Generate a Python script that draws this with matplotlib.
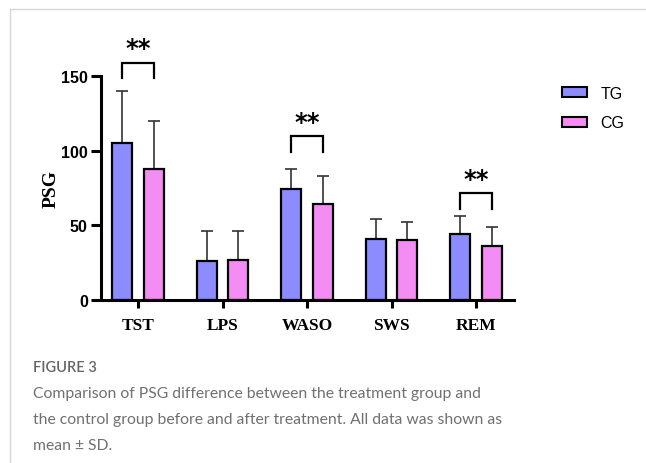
import matplotlib
matplotlib.use("Agg")
import matplotlib.pyplot as plt
from matplotlib.lines import Line2D
import numpy as np

# PSG measures (mean and SD) for the two groups
categories = ["TST", "LPS", "WASO", "SWS", "REM"]
tg_mean = [105, 26, 74, 41, 44]
tg_sd = [35, 20, 14, 13, 12]
cg_mean = [88, 27, 64, 40, 36]
cg_sd = [32, 19, 19, 12, 13]
groups = ["TG", "CG"]
yticks = [0, 50, 100, 150]

# significance brackets: (category index, bracket top, label)
sig_marks = [(0, 159, "**"), (2, 109.5, "**"), (4, 71.5, "**")]

tg_color = "#8C8CFF"
cg_color = "#F38CF3"
caption_color = "#707070"

W, H = 646, 464
fig = plt.figure(figsize=(W / 100, H / 100), dpi=100)

ax_left, ax_right = 101, 514
ax_bottom, ax_top = 301, 77
ax = fig.add_axes([ax_left / W, 1 - ax_bottom / H,
                   (ax_right - ax_left) / W, (ax_bottom - ax_top) / H])

x = np.arange(len(categories))
bw = 0.235
off = 0.187

ax.bar(x - off, tg_mean, width=bw, color=tg_color, edgecolor="black",
       linewidth=1.6, label=groups[0], zorder=2)
ax.bar(x + off, cg_mean, width=bw, color=cg_color, edgecolor="black",
       linewidth=1.6, label=groups[1], zorder=2)

err_kw = dict(fmt="none", ecolor="#333333", elinewidth=1.2, capsize=4.3,
              capthick=1.2, zorder=1)
ax.errorbar(x - off, tg_mean, yerr=[np.zeros(len(x)), tg_sd], **err_kw)
ax.errorbar(x + off, cg_mean, yerr=[np.zeros(len(x)), cg_sd], **err_kw)

for i, top, label in sig_marks:
    x0, x1 = i - 0.19, i + 0.19
    ax.plot([x0, x0, x1, x1], [top - 10.5, top, top, top - 10.5],
            color="black", lw=1.6, clip_on=False, solid_joinstyle="miter")
    ax.text(i, top + 1.5, label, ha="center", va="bottom", fontsize=17.5,
            fontweight="bold", family="DejaVu Sans")

ax.set_xlim(-0.44, 4.45)
ax.set_ylim(0, 150)
ax.set_yticks(yticks)
ax.set_yticklabels([str(v) for v in yticks], fontsize=11.5, fontweight="bold",
                   family="Liberation Sans")
ax.set_xticks(x)
ax.set_xticklabels(categories, fontsize=12.5, fontweight="bold",
                   family="Liberation Serif")
ax.set_ylabel("PSG", fontsize=14, fontweight="bold",
              family="Liberation Serif", labelpad=1)

for s in ["top", "right"]:
    ax.spines[s].set_visible(False)
for s in ["left", "bottom"]:
    ax.spines[s].set_linewidth(2.2)
ax.tick_params(axis="y", length=7.5, width=2.2, pad=2)
ax.tick_params(axis="x", length=6, width=2.2, pad=6)

leg = ax.legend(loc="upper left", bbox_to_anchor=(562 / W, 1 - 87 / H),
                bbox_transform=fig.transFigure, frameon=False, fontsize=11.5,
                handlelength=1.55, handleheight=0.6, handletextpad=0.85,
                labelspacing=0.9, borderpad=0, borderaxespad=0)
for t in leg.get_texts():
    t.set_family("Liberation Sans")
for p in leg.get_patches():
    p.set_linewidth(1.5)

# thin frame lines along the top and left
fig.add_artist(Line2D([9.5 / W, 1], [1 - 9.5 / H, 1 - 9.5 / H],
                      color="#d6d6d6", lw=1))
fig.add_artist(Line2D([9.5 / W, 9.5 / W], [0, 1 - 9.5 / H],
                      color="#d6d6d6", lw=1))

cap_x = 33 / W
fig.text(cap_x, 1 - 372 / H, "FIGURE 3", fontsize=10.5, color="#666666",
         family="Lato", fontweight="semibold", va="baseline")
lines = ["Comparison of PSG difference between the treatment group and",
         "the control group before and after treatment. All data was shown as",
         "mean ± SD."]
for k, line in enumerate(lines):
    fig.text(cap_x, 1 - (398 + 26 * k) / H, line, fontsize=11.3,
             color=caption_color, family="Lato", va="baseline")

fig.savefig("out.png", dpi=100)
